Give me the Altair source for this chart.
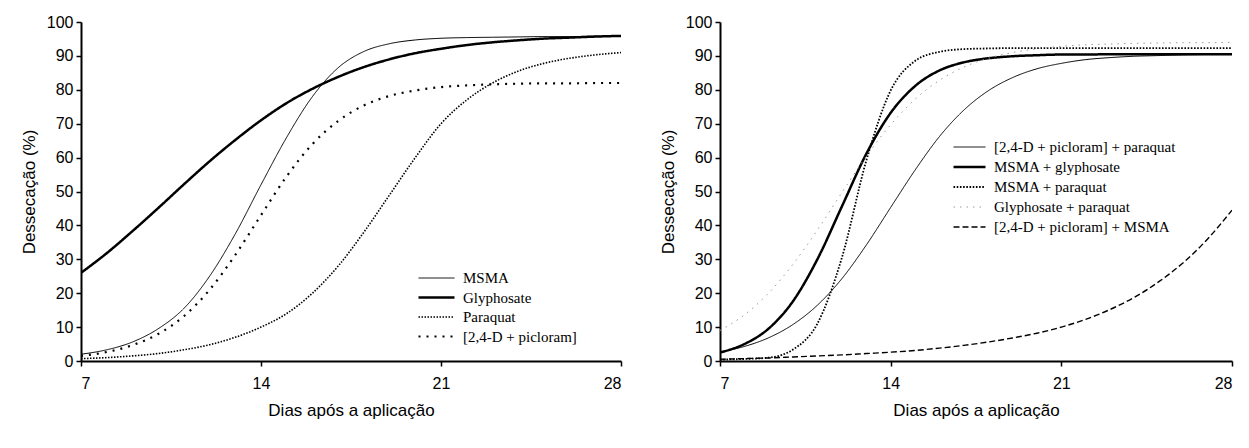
import altair as alt
import pandas as pd

days = list(range(7, 29))

# Left panel
left_series = ["MSMA", "Glyphosate", "Paraquat", "[2,4-D + picloram]"]
msma = [2.0, 3.3, 5.6, 9.5, 15.5, 25.0, 37.5, 52.0, 66.0, 78.0, 86.5, 91.3,
        93.6, 94.7, 95.2, 95.4, 95.5, 95.6, 95.7, 95.7, 95.8, 95.8]
glyphosate = [26.0, 31.8, 38.3, 45.1, 52.1, 58.9, 65.2, 71.0, 76.1, 80.3, 83.8, 86.7,
              89.0, 90.8, 92.1, 93.2, 94.0, 94.6, 95.1, 95.4, 95.7, 95.9]
paraquat = [0.7, 1.0, 1.5, 2.2, 3.3, 4.8, 7.0, 10.0, 14.0, 20.0, 28.0, 38.0,
            49.0, 60.0, 70.0, 77.0, 82.0, 85.5, 87.8, 89.3, 90.3, 91.0]
dp = [1.5, 2.65, 4.66, 7.96, 13.2, 21.0, 31.3, 43.0, 54.5, 64.0, 70.8, 75.4,
      78.2, 79.8, 80.8, 81.3, 81.6, 81.8, 81.9, 81.9, 82.0, 82.0]

# Right panel
right_series = ["[2,4-D + picloram] + paraquat", "MSMA + glyphosate", "MSMA + paraquat",
                "Glyphosate + paraquat", "[2,4-D + picloram] + MSMA"]
dp_par = [2.65, 4.29, 6.87, 10.8, 16.5, 24.3, 34.2, 45.3, 56.3, 66.2, 74.0, 79.7,
          83.6, 86.2, 87.8, 88.9, 89.5, 89.9, 90.1, 90.3, 90.4, 90.4]
msma_gly = [2.5, 5.0, 9.6, 17.7, 30.1, 45.6, 61.1, 73.2, 81.1, 85.7, 88.1, 89.3,
            89.9, 90.2, 90.4, 90.4, 90.5, 90.5, 90.5, 90.5, 90.5, 90.5]
msma_par = [0.4, 0.6, 1.0, 3.4, 11.1, 30.5, 59.1, 79.8, 88.5, 91.2, 92.0, 92.2,
            92.3, 92.3, 92.3, 92.3, 92.3, 92.3, 92.3, 92.3, 92.3, 92.3]
gly_par = [9.0, 13.6, 20.1, 28.6, 38.7, 49.7, 60.4, 69.7, 77.2, 82.8, 86.7, 89.3,
           91.0, 92.1, 92.8, 93.3, 93.5, 93.7, 93.8, 93.9, 93.9, 94.0]
dp_msma = [0.5, 0.7, 0.9, 1.2, 1.5, 1.8, 2.2, 2.6, 3.1, 3.8, 4.6, 5.6,
           6.8, 8.2, 10.0, 12.3, 15.2, 18.8, 23.4, 29.0, 36.0, 44.5]

x_ticks = [7, 14, 21, 28]
y_ticks = list(range(0, 101, 10))


def make_df(names, arrays):
    rows = []
    for name, arr in zip(names, arrays):
        for d, v in zip(days, arr):
            rows.append({"day": d, "value": v, "series": name})
    return pd.DataFrame(rows)


left_df = make_df(left_series, [msma, glyphosate, paraquat, dp])
right_df = make_df(right_series, [dp_par, msma_gly, msma_par, gly_par, dp_msma])


def panel(df, order, colors, dashes, widths, width, legend_x, legend_y, sym_len, row_pad):
    leg = alt.Legend(
        title=None, orient="none", legendX=legend_x, legendY=legend_y,
        symbolType="stroke", symbolSize=sym_len * sym_len, clipHeight=18,
        rowPadding=row_pad, labelFont="Liberation Serif", labelFontSize=15,
        labelColor="black", labelOffset=7, padding=0, symbolOpacity=1,
        labelLimit=400,
    )
    return alt.Chart(df).mark_line(interpolate="monotone", clip=True).encode(
        x=alt.X("day:Q",
                scale=alt.Scale(domain=[7, 28], nice=False, zero=False),
                axis=alt.Axis(values=x_ticks, title="Dias após a aplicação",
                              labelPadding=9, titlePadding=11)),
        y=alt.Y("value:Q",
                scale=alt.Scale(domain=[0, 100], nice=False),
                axis=alt.Axis(values=y_ticks, title="Dessecação (%)",
                              labelPadding=3, titlePadding=8)),
        color=alt.Color("series:N", sort=order,
                        scale=alt.Scale(domain=order, range=colors), legend=leg),
        strokeDash=alt.StrokeDash("series:N", sort=order,
                                  scale=alt.Scale(type="ordinal", domain=order, range=dashes),
                                  legend=leg),
        strokeWidth=alt.StrokeWidth("series:N", sort=order,
                                    scale=alt.Scale(type="ordinal", domain=order, range=widths),
                                    legend=leg),
    ).properties(width=width, height=339)


left = panel(
    left_df, left_series,
    ["black", "black", "black", "black"],
    [[1, 0], [1, 0], [1.5, 1.5], [2, 6]],
    [1, 2.5, 1.6, 2.2],
    540, 336, 247, 36, 1.5,
)

right = panel(
    right_df, right_series,
    ["black", "black", "black", "#9a9a9a", "black"],
    [[1, 0], [1, 0], [1.6, 1.6], [1.5, 5], [6, 3]],
    [1, 2.5, 1.8, 1, 1.4],
    512, 232, 116, 32, 2,
)

chart = alt.hconcat(left, right, spacing=37).resolve_scale(
    color="independent", strokeDash="independent", strokeWidth="independent"
).resolve_legend(
    color="independent", strokeDash="independent", strokeWidth="independent"
).properties(
    padding={"left": 12, "top": 6, "right": 5, "bottom": 5}
).configure_view(stroke=None).configure_axis(
    grid=False,
    labelFont="Liberation Sans", labelFontSize=16, labelColor="black",
    titleFont="Liberation Sans", titleFontSize=17, titleFontWeight="normal",
    titleColor="black", domainColor="black", domainWidth=2,
    tickColor="black", tickWidth=1.5, tickSize=5,
)

chart.save("out.html", embed_options={"renderer": "svg", "actions": False})
